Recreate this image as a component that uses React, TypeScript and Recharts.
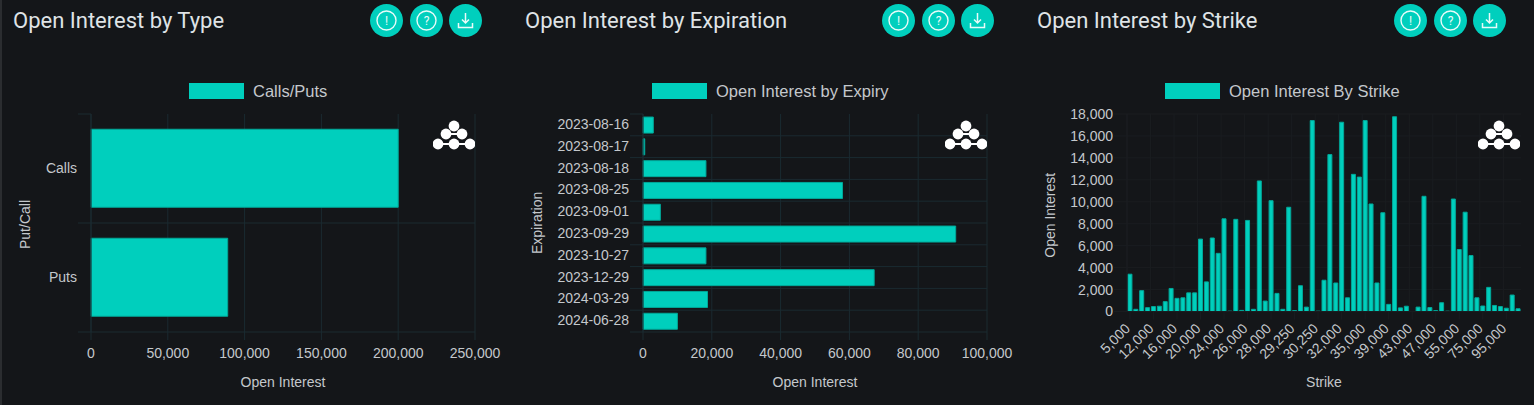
import { Bar, BarChart, CartesianGrid, Legend, XAxis, YAxis } from "recharts";

const TEAL = "#00cfbd";
const TEAL_EDGE = "#00a899";
const TEXT = "#c4c8cc";
const GRID = "#1a2a31";
const GRID_DARK = "#1a1d20";
const FONT = "'Liberation Sans', Arial, sans-serif";

const typeCategories = ["Calls", "Puts"];
const typeValues = [200000, 89000];
const typeTicks = [0, 50000, 100000, 150000, 200000, 250000];

const expiryCategories = [
  "2023-08-16",
  "2023-08-17",
  "2023-08-18",
  "2023-08-25",
  "2023-09-01",
  "2023-09-29",
  "2023-10-27",
  "2023-12-29",
  "2024-03-29",
  "2024-06-28",
];
const expiryValues = [3000, 500, 18300, 58000, 5050, 90900, 18300, 67200, 18750, 10000];
const expiryTicks = [0, 20000, 40000, 60000, 80000, 100000];

const strikeCategories = [
  5000, 8000, 10000, 11000, 12000, 13000, 14000, 15000, 16000, 17000, 18000, 19000, 20000, 21000,
  22000, 23000, 24000, 24500, 25000, 25500, 26000, 26500, 27000, 27500, 28000, 28500, 28750, 29000,
  29250, 29500, 29750, 30000, 30250, 30500, 30750, 31000, 32000, 32500, 33000, 34000, 35000, 36000,
  37000, 38000, 39000, 40000, 41000, 42000, 43000, 44000, 45000, 46000, 47000, 48000, 50000, 52000,
  55000, 60000, 65000, 70000, 75000, 80000, 85000, 90000, 95000, 100000, 110000,
];
const strikeValues = [
  3400, 200, 1900, 350, 450, 480, 900, 2100, 1200, 1250, 1700, 1700, 6600, 2700, 6700, 5300, 8450,
  30, 8400, 100, 8300, 200, 11900, 950, 10100, 1650, 200, 9500, 80, 2350, 400, 17400, 30, 2850,
  14300, 2600, 17250, 1250, 12500, 12250, 17400, 9800, 2600, 9000, 650, 17750, 330, 480, 0, 400,
  10500, 360, 80, 800, 30, 10250, 5650, 9050, 5100, 1250, 500, 2200, 550, 450, 300, 1500, 250,
];
const strikeTicks = [0, 2000, 4000, 6000, 8000, 10000, 12000, 14000, 16000, 18000];

const fmt = (v: number) => Number(v).toLocaleString("en-US");

function LegendBox({ label }: { label: string }) {
  return (
    <div style={{ display: "flex", alignItems: "center", height: 20, fontFamily: FONT }}>
      <div style={{ width: 55, height: 16, background: TEAL, marginRight: 9 }} />
      <span style={{ fontSize: 16.5, color: TEXT, whiteSpace: "nowrap" }}>{label}</span>
    </div>
  );
}

// category labels plus the short ticks that sit on the band edges
function BandTick(props: any) {
  const { x, y, payload, index, bandHalf } = props;
  return (
    <g>
      <text x={x} y={y + 4} textAnchor="end" fontSize={14} fontFamily={FONT} fill={TEXT}>
        {payload.value}
      </text>
      <line x1={x + 1} x2={x + 14} y1={y + bandHalf} y2={y + bandHalf} stroke={GRID} />
      {index === 0 && <line x1={x + 1} x2={x + 14} y1={y - bandHalf} y2={y - bandHalf} stroke={GRID} />}
    </g>
  );
}

function StrikeTick(props: any) {
  const { x, y, payload } = props;
  const tx = x + 1;
  const ty = y + 8;
  return (
    <text
      x={tx}
      y={ty}
      textAnchor="end"
      fontSize={14}
      fontFamily={FONT}
      fill={TEXT}
      transform={`rotate(-45 ${tx} ${ty})`}
    >
      {fmt(payload.value)}
    </text>
  );
}

interface HBarProps {
  left: number;
  width: number;
  legendLeft: number;
  legend: string;
  yLabel: string;
  categories: string[];
  values: number[];
  ticks: number[];
  plotLeft: number;
  plotRight: number;
  yLabelDy: number;
}

function HBar(props: HBarProps) {
  const { categories, values, ticks } = props;
  const data = categories.map((name, i) => ({ name, value: values[i] }));
  const plotTop = 114;
  const plotH = 218;
  return (
    <div style={{ position: "absolute", left: props.left, top: 0 }}>
      <BarChart
        width={props.width}
        height={405}
        data={data}
        layout="vertical"
        barCategoryGap="14%"
        margin={{ top: plotTop, right: props.plotRight, bottom: 0, left: 0 }}
      >
        <CartesianGrid
          stroke={GRID}
          horizontalCoordinatesGenerator={({ offset }: any) =>
            categories.slice(0, -1).map((_, i) => offset.top + ((i + 1) * offset.height) / categories.length)
          }
        />
        <XAxis
          type="number"
          domain={[0, ticks[ticks.length - 1]]}
          ticks={ticks}
          interval={0}
          tickFormatter={fmt}
          height={73}
          tickSize={8}
          tickMargin={8}
          stroke={GRID}
          tick={{ fill: TEXT, fontSize: 14, fontFamily: FONT }}
          label={{ value: "Open Interest", position: "insideBottom", offset: 18, fill: TEXT, fontSize: 14, fontFamily: FONT }}
        />
        <YAxis
          type="category"
          dataKey="name"
          width={props.plotLeft}
          tickSize={13}
          tickMargin={1}
          tickLine={false}
          stroke={GRID}
          interval={0}
          tick={<BandTick bandHalf={plotH / categories.length / 2} />}
          label={{
            value: props.yLabel,
            angle: -90,
            position: "insideLeft",
            dx: 20,
            dy: props.yLabelDy,
            fill: TEXT,
            fontSize: 14,
            fontFamily: FONT,
          }}
        />
        <Legend
          verticalAlign="top"
          wrapperStyle={{ top: 81, left: props.legendLeft, width: "auto", height: 0 }}
          content={() => <LegendBox label={props.legend} />}
        />
        <Bar dataKey="value" fill={TEAL} stroke={TEAL_EDGE} isAnimationActive={false} />
      </BarChart>
    </div>
  );
}

function StrikeChart() {
  const data = strikeCategories.map((strike, i) => ({ strike, value: strikeValues[i] }));
  return (
    <div style={{ position: "absolute", left: 1024, top: 0 }}>
      <BarChart
        width={510}
        height={405}
        data={data}
        barCategoryGap="16%"
        margin={{ top: 114, right: 13, bottom: 0, left: 0 }}
      >
        <CartesianGrid
          stroke={GRID_DARK}
          verticalCoordinatesGenerator={({ offset }: any) =>
            strikeCategories
              .map((_, i) => offset.left + (i * offset.width) / strikeCategories.length)
              .filter((_, i) => i % 4 === 0)
          }
        />
        <XAxis
          dataKey="strike"
          interval={3}
          height={93.5}
          tickSize={8}
          tickMargin={2}
          stroke={GRID_DARK}
          tick={<StrikeTick />}
          label={{ value: "Strike", position: "insideBottom", offset: 18, fill: TEXT, fontSize: 14, fontFamily: FONT }}
        />
        <YAxis
          type="number"
          domain={[0, 18000]}
          ticks={strikeTicks}
          interval={0}
          tickFormatter={fmt}
          width={103}
          tickSize={13}
          tickMargin={1}
          stroke={GRID_DARK}
          tick={{ fill: TEXT, fontSize: 14, fontFamily: FONT }}
          label={{ value: "Open Interest", angle: -90, position: "insideLeft", dx: 21, dy: 45, fill: TEXT, fontSize: 14, fontFamily: FONT }}
        />
        <Legend
          verticalAlign="top"
          wrapperStyle={{ top: 81, left: 141, width: "auto", height: 0 }}
          content={() => <LegendBox label="Open Interest By Strike" />}
        />
        <Bar dataKey="value" fill={TEAL} stroke={TEAL_EDGE} isAnimationActive={false} />
      </BarChart>
    </div>
  );
}

function IconButton({ left, kind }: { left: number; kind: "alert" | "help" | "download" }) {
  return (
    <svg width={33} height={33} style={{ position: "absolute", left, top: 4 }}>
      <circle cx={16.5} cy={16.5} r={16.5} fill={TEAL} />
      {kind !== "download" && <circle cx={16.5} cy={16.5} r={9.5} fill="none" stroke="#e8fbf9" strokeWidth={1.4} />}
      {kind === "alert" && (
        <text x={16.5} y={21} textAnchor="middle" fontSize={12} fontFamily="Roboto" fill="#e8fbf9">
          !
        </text>
      )}
      {kind === "help" && (
        <text x={16.5} y={21} textAnchor="middle" fontSize={12} fontFamily="Roboto" fill="#e8fbf9">
          ?
        </text>
      )}
      {kind === "download" && (
        <path
          d="M16.5 9v10M13 15.5l3.5 3.5 3.5-3.5M9.5 19v4.5h14V19"
          fill="none"
          stroke="#e8fbf9"
          strokeWidth={1.5}
        />
      )}
    </svg>
  );
}

function Logo({ left }: { left: number }) {
  const dots = [
    [21, 6],
    [13, 14],
    [29, 14],
    [5, 24],
    [21, 24],
    [37, 24],
  ];
  return (
    <svg width={42} height={32} style={{ position: "absolute", left, top: 120 }}>
      <path d="M5 24H37M13 14H29" stroke="#fff" strokeWidth={2} />
      {dots.map(([cx, cy]) => (
        <circle key={`${cx}-${cy}`} cx={cx} cy={cy} r={5.4} fill="#fff" />
      ))}
    </svg>
  );
}

function Header({ left, title }: { left: number; title: string }) {
  return (
    <>
      <div
        style={{
          position: "absolute",
          left: left + 13,
          top: 8,
          fontFamily: "Roboto",
          fontSize: 22,
          lineHeight: "26px",
          color: "#dfe3e6",
          whiteSpace: "nowrap",
        }}
      >
        {title}
      </div>
      <IconButton left={left + 370} kind="alert" />
      <IconButton left={left + 410} kind="help" />
      <IconButton left={left + 449} kind="download" />
    </>
  );
}

export default function App() {
  return (
    <div
      style={{
        position: "absolute",
        left: 0,
        top: 0,
        width: 1534,
        height: 405,
        background: "#141619",
        overflow: "hidden",
      }}
    >
      <div style={{ position: "absolute", left: 0, top: 0, width: 2, height: 405, background: "#2b2d30" }} />
      <HBar
        left={0}
        width={512}
        legendLeft={189}
        legend="Calls/Puts"
        yLabel="Put/Call"
        categories={typeCategories}
        values={typeValues}
        ticks={typeTicks}
        plotLeft={91}
        plotRight={37}
        yLabelDy={26}
      />
      <HBar
        left={512}
        width={512}
        legendLeft={140}
        legend="Open Interest by Expiry"
        yLabel="Expiration"
        categories={expiryCategories}
        values={expiryValues}
        ticks={expiryTicks}
        plotLeft={131}
        plotRight={37}
        yLabelDy={31}
      />
      <StrikeChart />
      <Header left={0} title="Open Interest by Type" />
      <Header left={512} title="Open Interest by Expiration" />
      <Header left={1024} title="Open Interest by Strike" />
      <Logo left={433} />
      <Logo left={945} />
      <Logo left={1478} />
    </div>
  );
}
